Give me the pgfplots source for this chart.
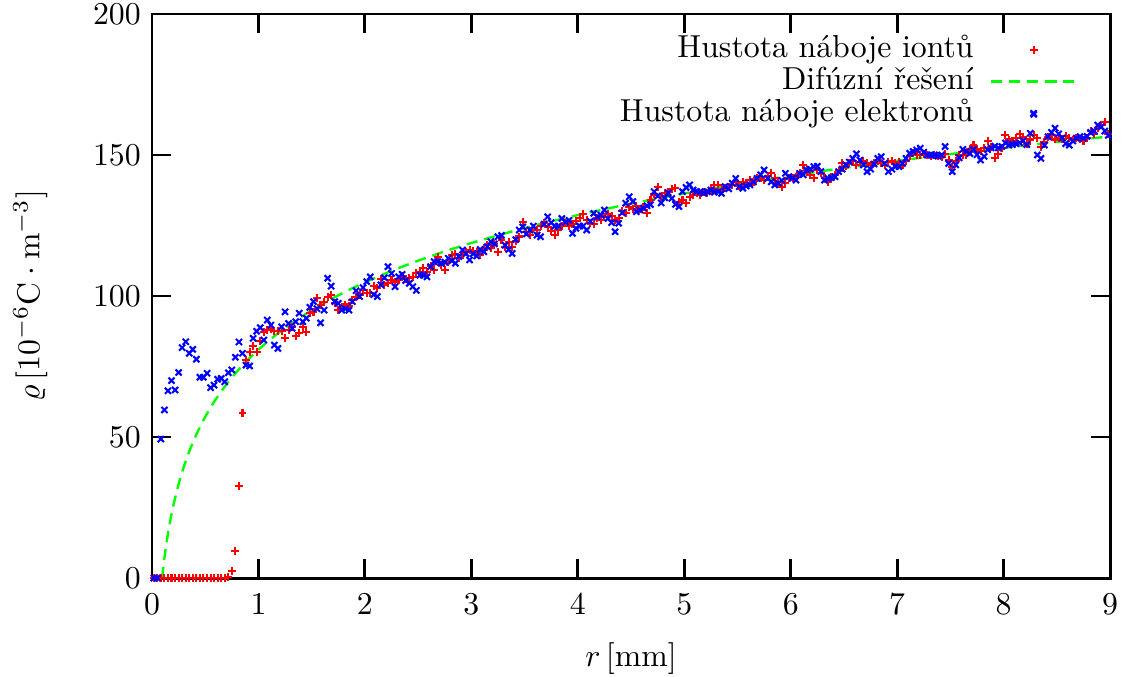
\documentclass[border=0pt]{standalone}
\usepackage{pgfplots}
\usepackage{pgfplotstable}
\pgfplotsset{compat=1.18}

% x [mm], ion density, electron density
\pgfplotstableread{
x ion el
0.017 0 0
0.050 0 0
0.083 0 49.3
0.117 0 59.6
0.150 0 66.4
0.183 0 70.0
0.217 0 66.7
0.250 0 72.9
0.283 0 81.7
0.317 0 83.8
0.350 0 79.7
0.383 0 81.1
0.417 0 77.6
0.450 0 71.2
0.483 0 71.2
0.517 0 72.6
0.550 0 67.5
0.583 0 68.4
0.617 0 70.5
0.650 0 70.8
0.683 0 69.6
0.717 0.3 72.8
0.750 2.5 73.8
0.783 9.5 78.3
0.817 32.5 83.7
0.850 58.5 79.7
0.883 77.3 75.5
0.917 80.2 75.2
0.950 82.3 85.0
0.983 80.2 87.5
1.017 84.0 88.8
1.050 87.3 84.4
1.083 88.0 91.5
1.117 88.2 89.7
1.150 87.7 82.6
1.183 87.7 81.4
1.217 87.7 89.1
1.250 85.0 94.4
1.283 88.0 90.3
1.317 89.1 88.5
1.350 85.8 90.9
1.383 87.0 93.9
1.417 89.0 90.9
1.450 87.3 92.1
1.483 94.1 96.0
1.517 94.4 98.0
1.550 99.2 95.5
1.583 96.8 90.5
1.617 98.0 95.0
1.650 99.8 106.3
1.683 100.5 103.5
1.717 97.4 98.0
1.750 95.0 97.4
1.783 96.0 95.0
1.817 97.0 95.5
1.850 96.5 95.0
1.883 98.6 98.0
1.917 99.8 101.9
1.950 100.5 99.8
1.983 102.0 103.0
2.017 101.0 105.1
2.050 101.0 106.8
2.083 103.5 100.5
2.117 103.0 99.8
2.150 106.0 104.0
2.183 103.9 106.5
2.217 104.5 110.4
2.250 105.7 108.0
2.283 105.0 103.3
2.317 105.7 106.8
2.350 107.0 107.7
2.383 106.0 105.5
2.417 106.3 104.5
2.450 106.8 103.3
2.483 108.0 102.0
2.517 108.6 107.4
2.550 110.0 107.4
2.583 108.5 106.8
2.617 110.5 110.4
2.650 109.3 112.2
2.683 114.0 112.2
2.717 111.0 111.6
2.750 109.3 112.0
2.783 112.0 113.4
2.817 114.5 112.5
2.850 115.0 111.6
2.883 113.5 114.0
2.917 114.5 116.3
2.950 115.7 115.0
2.983 116.3 112.8
3.017 116.0 115.0
3.050 115.7 114.2
3.083 114.5 116.5
3.117 116.5 115.7
3.150 118.0 117.5
3.183 117.0 119.3
3.217 118.6 118.5
3.250 115.7 121.0
3.283 119.7 121.5
3.317 117.4 118.0
3.350 119.0 116.5
3.383 117.5 115.1
3.417 119.5 120.0
3.450 121.1 123.4
3.483 126.3 124.5
3.517 122.6 122.0
3.550 121.6 123.4
3.583 124.0 124.8
3.617 123.5 121.6
3.650 124.8 121.0
3.683 125.8 125.5
3.717 124.5 128.1
3.750 123.0 126.0
3.783 121.6 124.8
3.817 123.5 124.8
3.850 124.8 127.5
3.883 126.0 126.2
3.917 124.8 126.8
3.950 125.5 122.2
3.983 126.5 124.0
4.017 127.8 124.8
4.050 129.0 124.8
4.083 127.0 123.4
4.117 126.0 126.5
4.150 125.5 129.3
4.183 127.5 128.0
4.217 126.8 128.7
4.250 128.0 130.5
4.283 129.0 127.5
4.317 128.5 126.0
4.350 127.0 122.8
4.383 127.8 125.8
4.417 130.2 129.5
4.450 129.5 132.9
4.483 131.5 135.2
4.517 131.0 133.5
4.550 132.0 129.9
4.583 130.8 130.5
4.617 131.5 131.2
4.650 129.3 132.0
4.683 134.0 132.4
4.717 136.0 137.0
4.750 138.8 135.5
4.783 135.2 133.0
4.817 136.5 134.8
4.850 137.0 136.6
4.883 138.0 134.6
4.917 138.2 132.5
4.950 133.4 131.7
4.983 134.0 137.0
5.017 133.0 138.5
5.050 135.0 139.4
5.083 135.8 137.6
5.117 136.5 137.0
5.150 135.8 137.0
5.183 137.0 136.5
5.217 136.4 137.0
5.250 137.5 137.6
5.283 139.4 136.8
5.317 139.4 137.0
5.350 137.5 136.4
5.383 138.2 138.8
5.417 138.8 138.0
5.450 139.5 140.0
5.483 140.5 141.7
5.517 139.0 138.8
5.550 140.5 138.2
5.583 140.0 139.0
5.617 141.1 139.4
5.650 140.5 140.5
5.683 141.7 141.7
5.717 142.0 143.0
5.750 141.1 144.7
5.783 142.5 141.7
5.817 143.5 140.5
5.850 142.0 139.4
5.883 140.5 140.0
5.917 138.8 141.0
5.950 140.0 143.5
5.983 141.7 142.3
6.017 142.0 141.8
6.050 142.3 141.1
6.083 143.5 143.5
6.117 146.4 143.0
6.150 144.7 144.7
6.183 143.0 145.0
6.217 141.7 145.9
6.250 144.7 146.0
6.283 143.5 144.1
6.317 142.0 141.1
6.350 140.5 141.7
6.383 142.3 142.0
6.417 143.0 142.3
6.450 144.5 144.1
6.483 147.0 145.0
6.517 146.0 146.5
6.550 147.0 147.5
6.583 148.0 148.8
6.617 146.5 150.4
6.650 147.6 148.2
6.683 148.0 146.5
6.717 147.0 144.1
6.750 146.5 145.0
6.783 147.0 146.8
6.817 148.0 148.8
6.850 147.0 149.4
6.883 146.5 147.0
6.917 147.6 144.1
6.950 148.0 145.0
6.983 147.0 145.9
7.017 147.5 145.9
7.050 146.4 147.0
7.083 148.0 148.8
7.117 149.5 150.6
7.150 150.6 151.2
7.183 150.0 151.8
7.217 150.0 152.4
7.250 150.5 151.0
7.283 150.0 150.0
7.317 149.5 150.0
7.350 150.0 150.0
7.383 149.8 149.6
7.417 149.4 150.0
7.450 150.5 153.0
7.483 148.2 147.0
7.517 145.9 144.1
7.550 148.0 146.5
7.583 150.0 149.0
7.617 150.0 152.0
7.650 150.0 151.3
7.683 152.0 150.5
7.717 153.6 151.9
7.750 152.0 150.1
7.783 151.3 148.2
7.817 152.5 149.5
7.850 155.0 151.9
7.883 153.0 152.5
7.917 148.8 153.1
7.950 150.2 152.5
7.983 152.5 153.0
8.017 157.1 154.3
8.050 155.5 153.5
8.083 154.8 153.7
8.117 156.0 154.0
8.150 157.6 154.3
8.183 156.4 155.0
8.217 154.0 153.7
8.250 155.5 157.7
8.283 157.0 164.4
8.317 156.0 150.0
8.350 153.0 148.8
8.383 154.7 153.5
8.417 156.5 156.5
8.450 157.0 158.0
8.483 155.5 159.5
8.517 156.0 157.5
8.550 155.5 156.0
8.583 156.6 154.0
8.617 156.0 153.5
8.650 155.5 155.0
8.683 156.0 156.0
8.717 155.5 156.5
8.750 154.8 156.0
8.783 156.0 156.6
8.817 158.5 158.0
8.850 157.5 158.5
8.883 159.7 160.6
8.917 160.5 160.0
8.950 161.7 158.5
8.983 157.5 157.0
}\density

\begin{document}
\begin{tikzpicture}
\begin{axis}[
    name=ax,
    scale only axis,
    width=301.3pt, height=177.4pt,
    xmin=0, xmax=9, ymin=0, ymax=200,
    xtick={0,1,...,9},
    ytick={0,50,...,200},
    tick align=inside,
    tick pos=both,
    major tick length=6pt,
    axis line style={line width=0.9pt},
    every tick/.style={black, line width=0.9pt},
    xlabel={$r\,$[mm]},
    ylabel={$\varrho\,[10^{-6}\mathrm{C}\cdot\mathrm{m}^{-3}]$},
    every axis x label/.style={at={(axis description cs:0.5,-0.142)}, anchor=center},
    every axis y label/.style={at={(axis description cs:-0.127,0.5)}, rotate=90, anchor=center},
    xticklabel style={yshift=-1.5pt},
    legend style={draw=none, fill=none, at={(0.967,0.966)}, anchor=north east,
        inner sep=0pt, column sep=4pt,
        nodes={inner sep=1pt, text height=6.5pt, text depth=1.5pt}},
    legend cell align=right,
    legend plot pos=right,
    legend image code/.code={\draw[mark repeat=2,mark phase=2,#1] plot coordinates {(0cm,0cm) (0.475cm,0cm) (0.95cm,0cm)};},
]
\addplot[only marks, mark=+, mark size=1.25pt, red, line width=0.65pt] table[x=x, y=ion] {\density};
\addlegendentry{Hustota náboje iontů}
\addplot[smooth, green, line width=0.75pt, dash pattern=on 3.5pt off 2.2pt] coordinates {
    (0.095,0) (0.1,1.79) (0.11,5.07) (0.12,8.06) (0.135,12.11) (0.15,15.74)
    (0.175,21.04) (0.2,25.64) (0.25,33.31) (0.3,39.58) (0.35,44.89) (0.4,49.48)
    (0.45,53.53) (0.5,57.16) (0.55,60.43) (0.6,63.43) (0.7,68.73) (0.8,73.32)
    (0.9,77.38) (1.0,81.0) (1.1,84.28) (1.2,87.27) (1.3,90.03) (1.4,92.57)
    (1.5,94.95) (1.6,97.17) (1.8,101.22) (2.0,104.84) (2.25,108.9) (2.5,112.52)
    (2.75,115.8) (3.0,118.79) (3.5,124.10) (4.0,128.69) (4.5,132.74) (5.0,136.36)
    (5.5,139.64) (6.0,142.64) (6.5,145.39) (7.0,147.94) (7.5,150.31) (8.0,152.53)
    (8.5,154.62) (9.0,156.58)
};
\addlegendentry{Difúzní řešení}
\addplot[only marks, mark=x, mark size=1.35pt, blue, line width=0.65pt] table[x=x, y=el] {\density};
\addlegendentry{Hustota náboje elektronů}
\end{axis}
\pgfresetboundingbox
\path[use as bounding box] ([xshift=-47.8pt,yshift=-31.1pt]ax.south west) rectangle ([xshift=5pt,yshift=4.4pt]ax.north east);
\end{tikzpicture}
\end{document}
